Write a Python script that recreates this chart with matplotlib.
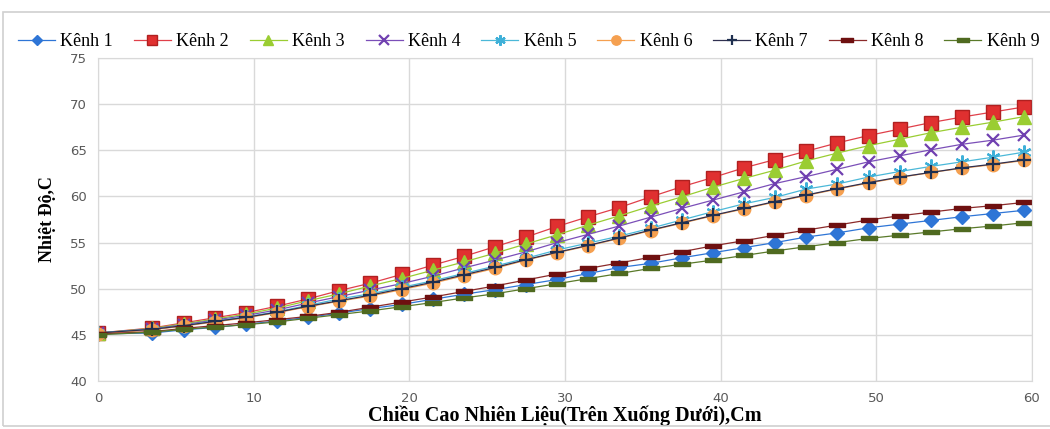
import matplotlib
matplotlib.use("Agg")
import matplotlib.pyplot as plt
from matplotlib.patches import Rectangle
import numpy as np

x_cm = [0, 3.5, 5.5, 7.5, 9.5, 11.5, 13.5, 15.5, 17.5, 19.5, 21.5, 23.5, 25.5, 27.5, 29.5,
        31.5, 33.5, 35.5, 37.5, 39.5, 41.5, 43.5, 45.5, 47.5, 49.5, 51.5, 53.5, 55.5, 57.5, 59.5]

kenh1 = [45.1, 45.2, 45.55, 45.8, 46.15, 46.5, 46.9, 47.35, 47.85, 48.3, 48.85, 49.4, 49.9, 50.45, 51.0,
         51.65, 52.3, 52.75, 53.35, 53.9, 54.45, 55.0, 55.6, 56.05, 56.6, 57.0, 57.4, 57.8, 58.15, 58.5]
kenh2 = [45.2, 45.75, 46.3, 46.85, 47.4, 48.1, 48.9, 49.8, 50.6, 51.55, 52.55, 53.5, 54.55, 55.6, 56.75,
         57.8, 58.8, 59.95, 61.05, 62.05, 63.1, 64.0, 64.9, 65.8, 66.6, 67.3, 68.0, 68.6, 69.15, 69.7]
kenh3 = [45.2, 45.7, 46.2, 46.7, 47.25, 47.9, 48.7, 49.45, 50.3, 51.1, 52.0, 52.9, 53.85, 54.85, 55.85,
         56.9, 57.9, 58.95, 59.95, 61.0, 61.95, 62.85, 63.85, 64.7, 65.5, 66.2, 66.9, 67.5, 68.05, 68.65]
kenh4 = [45.2, 45.65, 46.1, 46.6, 47.1, 47.7, 48.45, 49.15, 49.85, 50.55, 51.35, 52.25, 53.1, 54.0, 55.0,
         55.9, 56.8, 57.75, 58.7, 59.6, 60.5, 61.4, 62.15, 62.95, 63.75, 64.4, 65.05, 65.65, 66.1, 66.65]
kenh5 = [45.2, 45.6, 46.0, 46.5, 46.95, 47.5, 48.2, 48.9, 49.45, 50.15, 50.85, 51.65, 52.45, 53.3, 54.2,
         54.95, 55.7, 56.55, 57.45, 58.35, 59.2, 59.9, 60.8, 61.35, 62.1, 62.7, 63.25, 63.75, 64.25, 64.8]
kenh6 = [45.1, 45.55, 45.95, 46.4, 46.85, 47.4, 48.05, 48.65, 49.2, 49.9, 50.6, 51.4, 52.2, 53.1, 53.9,
         54.65, 55.45, 56.3, 57.1, 57.9, 58.65, 59.4, 60.1, 60.8, 61.45, 62.05, 62.6, 63.05, 63.45, 63.9]
kenh7 = [45.2, 45.6, 46.0, 46.45, 46.9, 47.45, 48.1, 48.7, 49.3, 50.0, 50.7, 51.5, 52.3, 53.15, 53.95,
         54.7, 55.5, 56.35, 57.15, 57.95, 58.7, 59.45, 60.15, 60.85, 61.5, 62.1, 62.6, 63.1, 63.5, 63.95]
kenh8 = [45.1, 45.35, 45.7, 46.0, 46.3, 46.65, 47.0, 47.45, 48.0, 48.55, 49.1, 49.7, 50.3, 50.95, 51.6,
         52.2, 52.8, 53.4, 54.0, 54.65, 55.2, 55.8, 56.35, 56.9, 57.45, 57.9, 58.3, 58.7, 59.0, 59.35]
kenh9 = [45.0, 45.3, 45.6, 45.85, 46.1, 46.4, 46.8, 47.2, 47.6, 48.05, 48.5, 49.0, 49.45, 50.0, 50.55,
         51.1, 51.65, 52.2, 52.65, 53.1, 53.6, 54.1, 54.55, 55.0, 55.45, 55.8, 56.15, 56.5, 56.8, 57.15]

series_names = ["Kênh 1", "Kênh 2", "Kênh 3", "Kênh 4", "Kênh 5", "Kênh 6", "Kênh 7", "Kênh 8", "Kênh 9"]
series_vals = [kenh1, kenh2, kenh3, kenh4, kenh5, kenh6, kenh7, kenh8, kenh9]

x_ticks = [0, 10, 20, 30, 40, 50, 60]
y_ticks = [40, 45, 50, 55, 60, 65, 70, 75]

bar = [(-1, -0.3), (1, -0.3), (1, 0.3), (-1, 0.3), (-1, -0.3)]
styles = [
    dict(color="#2E75D6", marker="D", ms=7, mfc="#2E75D6", mec="#2E75D6"),
    dict(color="#E0404A", marker="s", ms=9.5, mfc="#E03030", mec="#B02020"),
    dict(color="#9ACD32", marker="^", ms=9.5, mfc="#9ACD32", mec="#9ACD32"),
    dict(color="#7B4FB8", marker="x", ms=9, mfc="#7030A0", mec="#7040B0", mew=1.6),
    dict(color="#4BB8D8", marker=(6, 2, 0), ms=10, mfc="#3FB0D8", mec="#3FB0D8", mew=1.6),
    dict(color="#F5A050", marker="o", ms=9, mfc="#F5A050", mec="#F5A050"),
    dict(color="#303050", marker="+", ms=10, mfc="#1F2F4F", mec="#1F2F4F", mew=1.6),
    dict(color="#8B2A2A", marker=bar, ms=11, mfc="#6E1010", mec="#6E1010"),
    dict(color="#5A7A2A", marker=bar, ms=11, mfc="#4F6A20", mec="#4F6A20"),
]

fig = plt.figure(figsize=(10.5, 4.29), dpi=100)
ax = fig.add_axes([98/1050, 1 - 381/429, (1032 - 98)/1050, (381 - 58)/429])

handles = []
for name, vals, st in zip(series_names, series_vals, styles):
    st = dict(st)
    mew = st.pop("mew", 1.0)
    h, = ax.plot(x_cm, vals, lw=0.9, label=name, markeredgewidth=mew, **st)
    handles.append(h)

ax.set_xlim(0, 60)
ax.set_ylim(40, 75)
ax.set_xticks(x_ticks)
ax.set_yticks(y_ticks)
ax.grid(True, color="#D9D9D9", lw=1)
ax.set_axisbelow(True)
for s in ax.spines.values():
    s.set_color("#D9D9D9")
ax.tick_params(length=0, labelsize=9.5, labelcolor="#595959", pad=8)
for lab in ax.get_xticklabels() + ax.get_yticklabels():
    lab.set_fontfamily("DejaVu Sans")

ax.set_xlabel("Chiều Cao Nhiên Liệu(Trên Xuống Dưới),Cm", fontfamily="Liberation Serif",
              fontweight="bold", fontsize=14.5, labelpad=0)
ax.set_ylabel("Nhiệt Độ,C", fontfamily="Liberation Serif", fontweight="bold",
              fontsize=13, labelpad=10)

leg = fig.legend(handles=handles, labels=series_names, loc="center left",
                 bbox_to_anchor=(18/1050, 1 - 42/429), ncol=9, frameon=False,
                 prop={"family": "Liberation Serif", "size": 13},
                 handlelength=2.05, handletextpad=0.3, columnspacing=1.15,
                 markerscale=0.75, borderaxespad=0, borderpad=0)

fig.patches.append(Rectangle((3/1050, 3/429), 1.1, 1 - 15/429, transform=fig.transFigure,
                             fill=False, edgecolor="#D0D0D0", lw=1.2))

fig.savefig("out.png", dpi=100)
